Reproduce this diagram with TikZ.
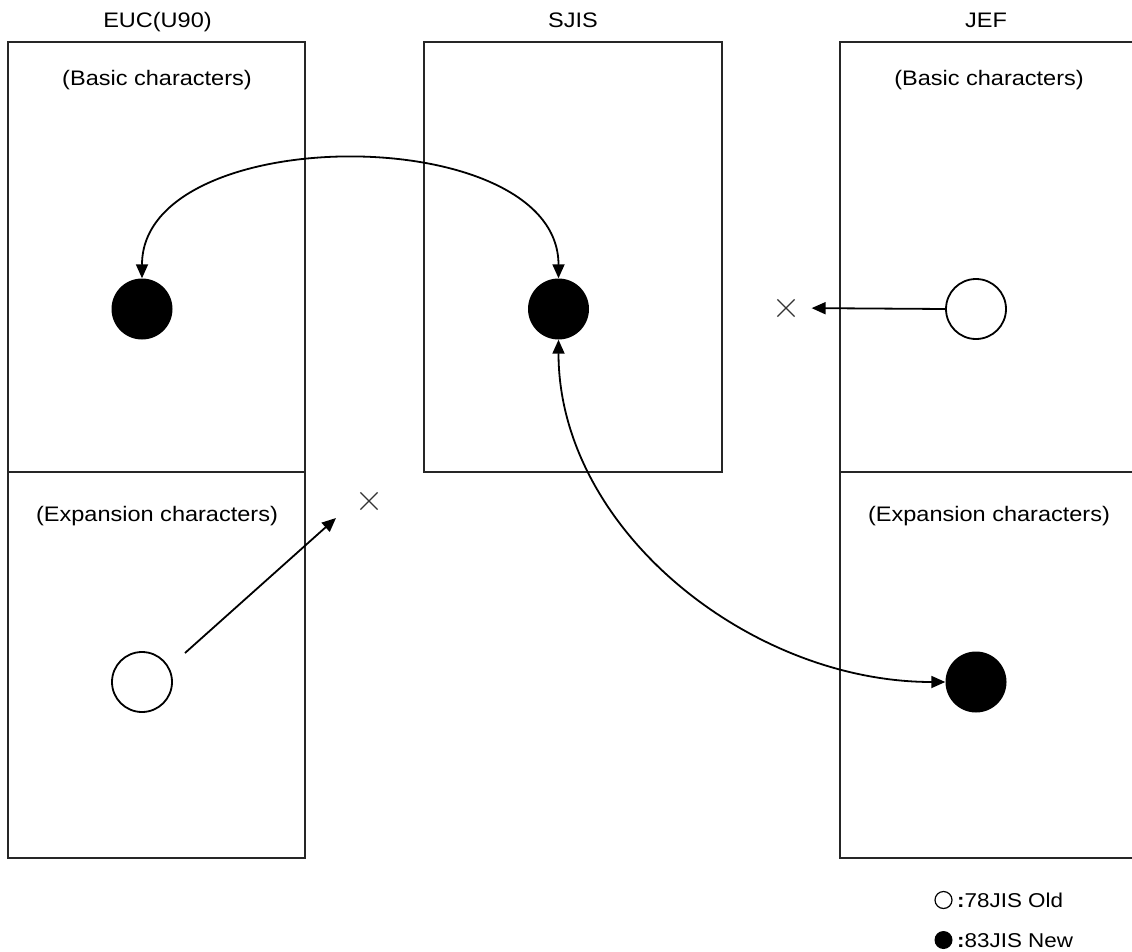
\documentclass[tikz,border=0pt]{standalone}
\usepackage{fontspec}
\setmainfont{Liberation Sans}[FakeStretch=1.12]
\usetikzlibrary{arrows.meta,shapes.misc}
\begin{document}
\begin{tikzpicture}[x=1pt,y=-1pt,
  box/.style={draw=black!85,line width=2pt},
  lbl/.style={font=\fontsize{21}{24}\selectfont,anchor=base,inner sep=0pt},
  full/.style={circle,fill=black,minimum size=61pt,inner sep=0pt},
  empty/.style={circle,draw=black,line width=1.8pt,fill=white,minimum size=60pt,inner sep=0pt},
  tip/.tip={Triangle[length=14pt,width=12pt]},
  conn/.style={line width=1.8pt,-tip},
  both/.style={line width=1.8pt,tip-tip},
  cross/.style={cross out,draw=black!80,line width=1.2pt,minimum size=16pt,inner sep=0pt}
]
\path[use as bounding box,clip] (0,0) rectangle (1132,952);

% boxes
\draw[box] (8,42) rectangle (305,858);
\draw[box] (8,472) -- (305,472);
\draw[box] (424,42) rectangle (722,472);
\draw[box] (1140,42) -- (840,42) -- (840,858) -- (1140,858);
\draw[box] (840,472) -- (1140,472);

% titles
\node[lbl] (tEUC) at (157.5,28) {EUC(U90)};
\node[lbl] (tSJIS) at (573,28) {SJIS};
\node[lbl] (tJEF) at (986,28) {JEF};
\node[lbl] (bEUC) at (157,86) {(Basic characters)};
\node[lbl] (bJEF) at (989,86) {(Basic characters)};
\node[lbl] (eEUC) at (157,521) {(Expansion characters)};
\node[lbl] (eJEF) at (989,521) {(Expansion characters)};

% circles
\node[full] (eucB) at (142,309) {};
\node[full] (sjB) at (558.5,309) {};
\node[empty] (jefB) at (976,309) {};
\node[empty] (eucE) at (142,682) {};
\node[full] (jefE) at (976,682) {};

% crosses
\node[cross] (xB) at (786,308) {};
\node[cross] (xE) at (369,501) {};

% connectors
\draw[both] (eucB.north) .. controls +(0,-158) and +(0,-158) .. (sjB.north);
\draw[both] (sjB.south) .. controls +(0,190) and +(-195,0) .. (jefE.west);
\draw[conn,shorten >=17pt] (jefB.west) -- (xB.east);
\draw[conn] ([shift={(43,-29)}]eucE.center) -- ([shift={(-33,17)}]xE.center);

% legend
\node[empty,minimum size=17pt,line width=1.2pt] (lgO) at (943.5,900) {};
\node[full,minimum size=18pt] (lgF) at (943.5,940) {};
\node[lbl,anchor=base west,font=\fontsize{20}{24}\selectfont] (lgOt) at (957,907) {\textbf{:}78JIS Old};
\node[lbl,anchor=base west,font=\fontsize{20}{24}\selectfont] (lgFt) at (957,947) {\textbf{:}83JIS New};
\end{tikzpicture}
\end{document}
